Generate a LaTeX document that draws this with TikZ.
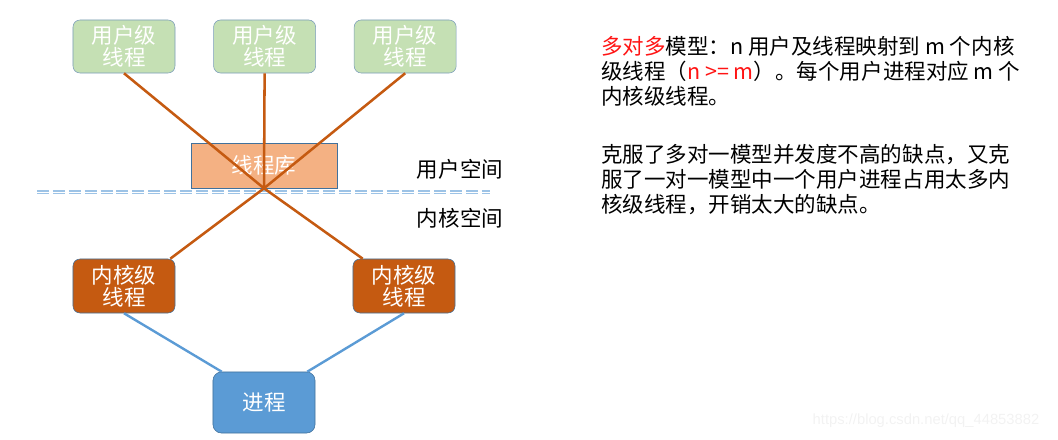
\documentclass[tikz,border=0pt]{standalone}
\usepackage{fontspec}
\usepackage{xcolor}
\usepackage{tikz}
\setmainfont{Noto Sans CJK SC}
\newfontfamily\wmfont{Liberation Sans}
\usetikzlibrary{positioning, calc}

\definecolor{ugreen}{RGB}{197,224,180}
\definecolor{kbrown}{RGB}{197,90,17}
\definecolor{libfill}{RGB}{244,177,131}
\definecolor{pblue}{RGB}{91,155,213}
\definecolor{bdblue}{RGB}{65,113,156}
\definecolor{dashblue}{RGB}{157,195,230}
\definecolor{redtext}{RGB}{255,20,20}

\newcommand{\bxfont}{\fontsize{15.3pt}{15.8pt}\selectfont}
\newcommand{\descfont}{\fontsize{15.3pt}{17.8pt}\selectfont}

\begin{document}
\begin{tikzpicture}[
    x=0.025cm, y=-0.025cm,
    uthread/.style={rectangle, draw=bdblue!70, fill=ugreen, rounded corners=5pt, minimum width=2.55cm, minimum height=1.325cm, inner sep=0pt, align=center, text=white, font=\bxfont},
    kthread/.style={rectangle, draw=bdblue, fill=kbrown, rounded corners=5pt, minimum width=2.55cm, minimum height=1.35cm, inner sep=0pt, align=center, text=white, font=\bxfont},
    libbox/.style={rectangle, draw=bdblue, fill=libfill, minimum width=3.65cm, minimum height=1.125cm, inner sep=0pt, text=white, font=\bxfont},
    procbox/.style={rectangle, draw=bdblue, fill=pblue, rounded corners=6pt, minimum width=2.55cm, minimum height=1.525cm, inner sep=0pt, text=white, font=\bxfont},
    maplink/.style={draw=kbrown, line width=1.8pt},
    proclink/.style={draw=pblue, line width=1.7pt},
    sepline/.style={draw=dashblue, line width=1pt, double=white, double distance=0.6pt, dash pattern=on 8.5pt off 2.8pt},
    spacelabel/.style={font=\bxfont, inner sep=0pt},
    desc/.style={font=\descfont, align=left, inner sep=0pt, anchor=north west},
    wmark/.style={font=\wmfont\fontsize{10.5pt}{12pt}\selectfont, text=black!5, inner sep=0pt},
    node distance=0.95cm
]
    \useasboundingbox (0,0) rectangle (1058,440);

    % user / kernel separator
    \coordinate (sepL) at (37,192);
    \coordinate (sepR) at (490,192);
    \draw[sepline] (sepL) -- (sepR);

    % user level threads
    \node[uthread] (u1) at (124,46.5) {用户级\\线程};
    \node[uthread, right=of u1] (u2) {用户级\\线程};
    \node[uthread, right=of u2] (u3) {用户级\\线程};

    % thread library
    \node[libbox] (lib) at (264,165.5) {线程库};
    \coordinate (cross) at (lib.south);

    % kernel level threads and process
    \node[kthread] (k1) at (124,286) {内核级\\线程};
    \node[kthread] (k2) at (404,286) {内核级\\线程};
    \node[procbox] (proc) at (264,402.5) {进程};

    % many-to-many mapping
    \draw[maplink] (u1.south) -- (cross);
    \draw[maplink] (u2.south) -- (cross);
    \draw[maplink] (u3.south) -- (cross);
    \draw[maplink] (cross) -- ([xshift=-0.125cm]k1.north east);
    \draw[maplink] (cross) -- ([xshift=0.25cm]k2.north west);

    % kernel threads to process
    \draw[proclink] (k1.south) -- ([xshift=0.225cm]proc.north west);
    \draw[proclink] (k2.south) -- ([xshift=-0.2cm]proc.north east);

    % space labels
    \node[spacelabel] (userspace) at (460,169) {用户空间};
    \node[spacelabel] (kernelspace) at (460,218) {内核空间};

    % explanation
    \node[desc] (descA) at (601,36) {\textcolor{redtext}{多对多}模型：n 用户及线程映射到 m 个内核\\级线程（\textcolor{redtext}{n >= m}）。每个用户进程对应 m 个\\内核级线程。};
    \node[desc] (descB) at (601,144) {克服了多对一模型并发度不高的缺点，又克\\服了一对一模型中一个用户进程占用太多内\\核级线程，开销太大的缺点。};

    \node[wmark] (wm) at (926,421) {https://blog.csdn.net/qq\_44853882};
\end{tikzpicture}
\end{document}
